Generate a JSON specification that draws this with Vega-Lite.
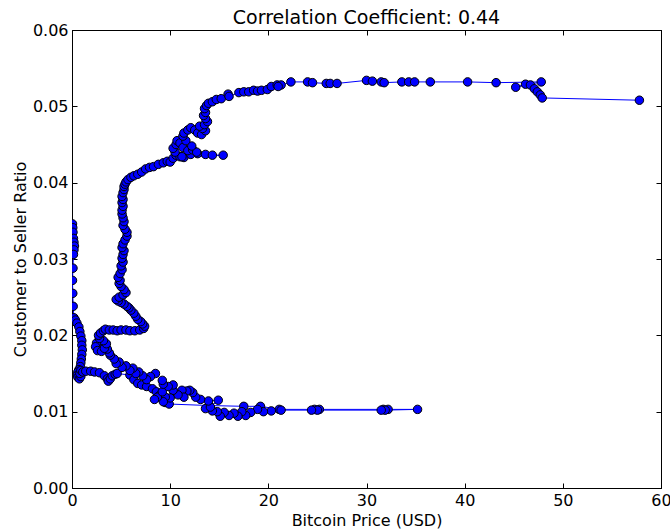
{
  "$schema": "https://vega.github.io/schema/vega-lite/v6.json",
  "width": 589,
  "height": 458,
  "autosize": {"type": "none"},
  "padding": {"left": 72, "top": 30, "right": 9, "bottom": 41},
  "background": "white",
  "config": {
    "font": "DejaVu Sans",
    "view": {"stroke": "black", "strokeWidth": 1},
    "axis": {"grid": false, "domainColor": "black", "tickColor": "black", "labelColor": "black", "titleColor": "black", "labelFont": "DejaVu Sans", "titleFont": "DejaVu Sans", "labelFontSize": 16, "titleFontSize": 16, "titleFontWeight": "normal", "tickSize": -5, "labelPadding": 9, "labelFlush": false}
  },
  "title": {"text": "Correlation Coefficient: 0.44", "font": "DejaVu Sans", "fontSize": 19, "fontWeight": "normal", "color": "black", "offset": -6},
  "data": {"values": [
    {"price":0.05,"ratio":0.0346},{"price":0.08,"ratio":0.0341},{"price":0.1,"ratio":0.0335},{"price":0.15,"ratio":0.0327},{"price":0.2,"ratio":0.0322},{"price":0.25,"ratio":0.0317},{"price":0.2,"ratio":0.0312},{"price":0.15,"ratio":0.0306},{"price":0.1,"ratio":0.0288},{"price":0.05,"ratio":0.0272},{"price":0.08,"ratio":0.0255},{"price":0.12,"ratio":0.0238},{"price":0.2,"ratio":0.0223},{"price":0.35,"ratio":0.022},{"price":0.5,"ratio":0.0216},{"price":0.7,"ratio":0.0211},{"price":0.8,"ratio":0.0205},{"price":0.9,"ratio":0.0199},{"price":1.0,"ratio":0.0193},{"price":1.0,"ratio":0.0187},{"price":1.05,"ratio":0.0181},{"price":1.0,"ratio":0.0175},{"price":0.95,"ratio":0.0169},{"price":0.9,"ratio":0.0164},{"price":0.85,"ratio":0.0159},{"price":0.7,"ratio":0.0155},{"price":0.6,"ratio":0.0152},{"price":0.55,"ratio":0.0148},{"price":0.6,"ratio":0.0145},{"price":0.75,"ratio":0.0143},{"price":0.9,"ratio":0.0146},{"price":0.8,"ratio":0.015},{"price":0.9,"ratio":0.0154},{"price":1.1,"ratio":0.0152},
    {"price":1.4,"ratio":0.0153},{"price":1.9,"ratio":0.0153},{"price":2.3,"ratio":0.0152},{"price":2.8,"ratio":0.0151},{"price":3.3,"ratio":0.0147},{"price":3.6,"ratio":0.0143},{"price":3.7,"ratio":0.014},{"price":3.9,"ratio":0.0143},{"price":4.1,"ratio":0.0147},{"price":4.4,"ratio":0.0149},{"price":4.6,"ratio":0.015},{"price":5.9,"ratio":0.0148},
    {"price":6.3,"ratio":0.0142},{"price":6.7,"ratio":0.0137},{"price":7.1,"ratio":0.0135},{"price":7.6,"ratio":0.0133},{"price":8.2,"ratio":0.013},{"price":8.6,"ratio":0.0126},{"price":8.9,"ratio":0.0121},{"price":9.2,"ratio":0.0117},{"price":9.5,"ratio":0.0112},{"price":9.9,"ratio":0.011},{"price":14.0,"ratio":0.0108},{"price":17.5,"ratio":0.0107},{"price":19.2,"ratio":0.0107},{"price":21.1,"ratio":0.0103},{"price":24.7,"ratio":0.0103},{"price":25.2,"ratio":0.0103},{"price":31.7,"ratio":0.0103},{"price":32.2,"ratio":0.0103},{"price":35.2,"ratio":0.0103},
    {"price":31.9,"ratio":0.0102},{"price":31.5,"ratio":0.0102},{"price":25.0,"ratio":0.0102},{"price":24.4,"ratio":0.0102},{"price":21.3,"ratio":0.0102},{"price":20.3,"ratio":0.0101},{"price":19.5,"ratio":0.01},{"price":18.9,"ratio":0.0103},{"price":18.2,"ratio":0.0099},{"price":17.7,"ratio":0.0095},{"price":17.3,"ratio":0.01},{"price":16.9,"ratio":0.0094},{"price":16.5,"ratio":0.0098},{"price":16.0,"ratio":0.0095},{"price":15.5,"ratio":0.0099},{"price":15.1,"ratio":0.0094},{"price":14.8,"ratio":0.01},{"price":14.3,"ratio":0.0101},{"price":13.6,"ratio":0.0104},{"price":14.1,"ratio":0.0106},{"price":14.9,"ratio":0.0115},{"price":13.9,"ratio":0.0114},{"price":13.1,"ratio":0.0116},{"price":12.6,"ratio":0.0119},{"price":12.3,"ratio":0.0125},{"price":12.0,"ratio":0.0128},{"price":11.7,"ratio":0.0127},{"price":11.2,"ratio":0.0128},{"price":11.4,"ratio":0.0119},{"price":10.8,"ratio":0.0122},{"price":10.3,"ratio":0.0128},{"price":10.0,"ratio":0.0118},{"price":9.5,"ratio":0.0119},{"price":9.3,"ratio":0.0113},{"price":8.7,"ratio":0.0119},{"price":8.4,"ratio":0.0116},{"price":9.2,"ratio":0.0126},{"price":10.3,"ratio":0.0135},{"price":9.8,"ratio":0.0133},{"price":9.3,"ratio":0.0136},{"price":9.2,"ratio":0.0141},{"price":8.5,"ratio":0.015},{"price":8.0,"ratio":0.0146},{"price":7.6,"ratio":0.0142},{"price":7.2,"ratio":0.0147},{"price":6.8,"ratio":0.0152},{"price":6.5,"ratio":0.015},{"price":6.2,"ratio":0.0157},{"price":5.9,"ratio":0.0154},{"price":5.5,"ratio":0.016},{"price":5.1,"ratio":0.0158},{"price":4.8,"ratio":0.0165},{"price":4.5,"ratio":0.0163},{"price":4.3,"ratio":0.0169},{"price":3.9,"ratio":0.0174},{"price":3.8,"ratio":0.0177},{"price":3.6,"ratio":0.0182},{"price":3.4,"ratio":0.0187},{"price":3.0,"ratio":0.019},{"price":2.7,"ratio":0.0191},{"price":2.5,"ratio":0.019},{"price":2.4,"ratio":0.0185},{"price":2.6,"ratio":0.018},{"price":3.0,"ratio":0.0179},{"price":3.3,"ratio":0.0183},{"price":3.5,"ratio":0.0189},{"price":3.2,"ratio":0.0193},{"price":2.8,"ratio":0.0196},{"price":2.7,"ratio":0.02},{"price":2.9,"ratio":0.0203},{"price":3.2,"ratio":0.0206},{"price":3.4,"ratio":0.0208},
    {"price":3.8,"ratio":0.0207},{"price":4.2,"ratio":0.0207},{"price":4.6,"ratio":0.0206},{"price":5.0,"ratio":0.0207},{"price":5.5,"ratio":0.0207},{"price":5.9,"ratio":0.0206},{"price":6.4,"ratio":0.0206},{"price":6.9,"ratio":0.0207},{"price":7.3,"ratio":0.0209},{"price":7.4,"ratio":0.0212},{"price":7.2,"ratio":0.0215},{"price":7.0,"ratio":0.0218},{"price":6.7,"ratio":0.0221},{"price":6.5,"ratio":0.0225},{"price":6.3,"ratio":0.0229},{"price":6.0,"ratio":0.0233},{"price":5.8,"ratio":0.0236},{"price":5.6,"ratio":0.0238},{"price":5.3,"ratio":0.0241},{"price":5.0,"ratio":0.0243},{"price":4.7,"ratio":0.0245},{"price":4.5,"ratio":0.0247},{"price":4.8,"ratio":0.025},{"price":5.2,"ratio":0.0253},{"price":5.5,"ratio":0.0256},{"price":5.3,"ratio":0.026},{"price":5.0,"ratio":0.0264},{"price":4.8,"ratio":0.0268},{"price":4.9,"ratio":0.0272},{"price":4.7,"ratio":0.0276},{"price":4.9,"ratio":0.0281},{"price":5.1,"ratio":0.0286},{"price":5.0,"ratio":0.0291},{"price":5.2,"ratio":0.0296},{"price":5.1,"ratio":0.0301},{"price":5.2,"ratio":0.0306},{"price":5.3,"ratio":0.0311},{"price":5.1,"ratio":0.0315},{"price":5.2,"ratio":0.032},{"price":5.4,"ratio":0.0325},{"price":5.6,"ratio":0.033},{"price":5.6,"ratio":0.0335},{"price":5.4,"ratio":0.0339},{"price":5.2,"ratio":0.0344},{"price":5.3,"ratio":0.0349},{"price":5.2,"ratio":0.0354},{"price":5.1,"ratio":0.0359},{"price":5.1,"ratio":0.0364},{"price":5.2,"ratio":0.0369},{"price":5.1,"ratio":0.0374},{"price":5.2,"ratio":0.0378},{"price":5.1,"ratio":0.0382},{"price":5.2,"ratio":0.0387},{"price":5.3,"ratio":0.0391},{"price":5.3,"ratio":0.0395},{"price":5.4,"ratio":0.0398},{"price":5.5,"ratio":0.0401},{"price":5.7,"ratio":0.0404},{"price":6.0,"ratio":0.0407},{"price":6.3,"ratio":0.0409},{"price":6.7,"ratio":0.0411},{"price":7.1,"ratio":0.0414},{"price":7.5,"ratio":0.0418},{"price":7.9,"ratio":0.042},{"price":8.3,"ratio":0.0421},{"price":8.8,"ratio":0.0424},{"price":9.3,"ratio":0.0426},{"price":9.7,"ratio":0.0428},{"price":10.0,"ratio":0.0427},
    {"price":10.3,"ratio":0.0432},{"price":10.6,"ratio":0.0436},{"price":11.0,"ratio":0.0434},{"price":11.4,"ratio":0.0433},{"price":12.1,"ratio":0.0437},{"price":12.8,"ratio":0.0438},{"price":13.6,"ratio":0.0437},{"price":14.3,"ratio":0.0436},{"price":15.4,"ratio":0.0436},{"price":11.2,"ratio":0.0434},{"price":10.5,"ratio":0.044},{"price":10.3,"ratio":0.0445},{"price":10.6,"ratio":0.045},{"price":10.7,"ratio":0.0455},{"price":11.0,"ratio":0.0452},{"price":11.3,"ratio":0.0446},{"price":11.8,"ratio":0.0442},{"price":12.3,"ratio":0.0443},{"price":12.7,"ratio":0.044},{"price":12.2,"ratio":0.0448},{"price":11.6,"ratio":0.0455},{"price":11.3,"ratio":0.0461},{"price":11.4,"ratio":0.0465},{"price":11.8,"ratio":0.0469},{"price":12.1,"ratio":0.0472},{"price":12.5,"ratio":0.0469},{"price":12.8,"ratio":0.0465},{"price":13.2,"ratio":0.0463},{"price":13.6,"ratio":0.0468},{"price":13.3,"ratio":0.0471},{"price":13.0,"ratio":0.0474},{"price":13.5,"ratio":0.0476},{"price":13.8,"ratio":0.048},{"price":13.6,"ratio":0.0484},{"price":13.4,"ratio":0.0488},{"price":13.6,"ratio":0.0492},{"price":13.5,"ratio":0.0497},{"price":13.7,"ratio":0.0501},{"price":13.9,"ratio":0.0504},{"price":14.3,"ratio":0.0506},{"price":14.7,"ratio":0.0509},{"price":15.2,"ratio":0.051},
    {"price":15.9,"ratio":0.0516},{"price":16.0,"ratio":0.0513},{"price":17.0,"ratio":0.0518},{"price":17.5,"ratio":0.0519},{"price":18.0,"ratio":0.0519},{"price":18.5,"ratio":0.0521},{"price":18.9,"ratio":0.052},{"price":19.3,"ratio":0.0521},{"price":19.9,"ratio":0.0522},{"price":20.3,"ratio":0.0526},{"price":20.9,"ratio":0.0528},{"price":21.3,"ratio":0.0528},{"price":21.0,"ratio":0.0526},{"price":22.3,"ratio":0.0532},{"price":24.0,"ratio":0.0532},{"price":24.5,"ratio":0.0531},{"price":25.9,"ratio":0.053},{"price":26.3,"ratio":0.053},{"price":27.0,"ratio":0.053},{"price":30.0,"ratio":0.0534},{"price":30.6,"ratio":0.0533},{"price":31.5,"ratio":0.0532},{"price":31.8,"ratio":0.0531},{"price":33.6,"ratio":0.0532},{"price":34.3,"ratio":0.0532},{"price":34.9,"ratio":0.0532},{"price":36.5,"ratio":0.0532},{"price":40.3,"ratio":0.0532},{"price":43.2,"ratio":0.0531},{"price":47.8,"ratio":0.0532},{"price":45.2,"ratio":0.0525},{"price":46.2,"ratio":0.0529},{"price":46.7,"ratio":0.0528},{"price":47.1,"ratio":0.0523},{"price":47.4,"ratio":0.0519},{"price":47.7,"ratio":0.0515},{"price":47.9,"ratio":0.0511},{"price":57.8,"ratio":0.0508}
  ]},
  "transform": [{"window": [{"op": "row_number", "as": "step"}]}],
  "layer": [
    {
      "mark": {"type": "line", "color": "#0000ff", "strokeWidth": 1, "clip": true},
      "encoding": {
        "x": {"field": "price", "type": "quantitative", "scale": {"domain": [0, 60], "nice": false, "zero": false}, "axis": {"orient": "bottom", "title": "Bitcoin Price (USD)", "values": [0,10,20,30,40,50,60], "format": "d", "titlePadding": 4}},
        "y": {"field": "ratio", "type": "quantitative", "scale": {"domain": [0, 0.06], "nice": false, "zero": false}, "axis": {"orient": "left", "title": "Customer to Seller Ratio", "values": [0,0.01,0.02,0.03,0.04,0.05,0.06], "format": ".2f", "titlePadding": 4}},
        "order": {"field": "step", "type": "quantitative"}
      }
    },
    {
      "mark": {"type": "point", "filled": true, "fill": "#0000ff", "stroke": "black", "strokeWidth": 1, "size": 72, "opacity": 1, "fillOpacity": 1, "strokeOpacity": 1, "clip": true},
      "encoding": {
        "x": {"field": "price", "type": "quantitative", "axis": {"orient": "top", "title": null, "labels": false, "values": [0,10,20,30,40,50,60]}},
        "y": {"field": "ratio", "type": "quantitative", "axis": {"orient": "right", "title": null, "labels": false, "values": [0,0.01,0.02,0.03,0.04,0.05,0.06]}}
      }
    }
  ],
  "resolve": {"axis": {"x": "independent", "y": "independent"}}
}
